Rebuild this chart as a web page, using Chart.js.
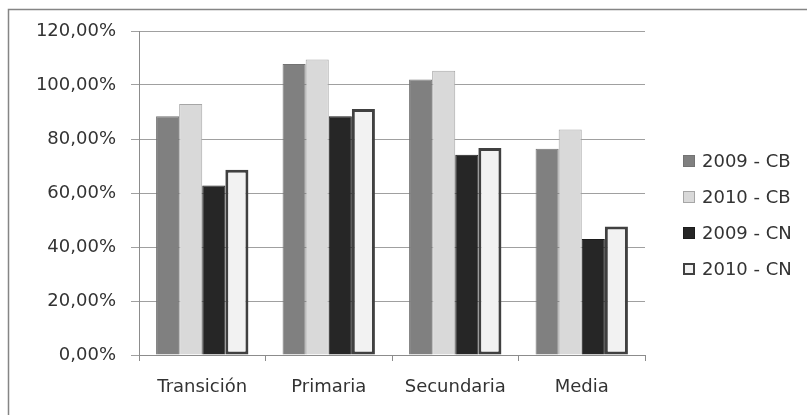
<!DOCTYPE html>
<html>
<head>
<meta charset="utf-8">
<script src="https://cdn.jsdelivr.net/npm/chart.js@4.4.1/dist/chart.umd.min.js"></script>
<style>
  html, body { margin: 0; padding: 0; background: #ffffff; }
  #wrap { position: relative; width: 807px; height: 415px; overflow: hidden; }
  canvas { display: block; }
</style>
</head>
<body>
<div id="wrap"><canvas id="chart" width="807" height="415"></canvas></div>
<script>
// Cobertura por nivel educativo (porcentaje)
const categories = ['Transición', 'Primaria', 'Secundaria', 'Media'];
const seriesNames = ['2009 - CB', '2010 - CB', '2009 - CN', '2010 - CN'];
const cb2009 = [88.4, 107.8, 102.0, 76.4];
const cb2010 = [93.0, 109.4, 105.3, 83.5];
const cn2009 = [62.8, 88.4, 74.2, 43.0];
const cn2010 = [68.6, 91.1, 76.7, 47.6];
const yTicks = [0, 20, 40, 60, 80, 100, 120];

const FONT = '"DejaVu Sans", Verdana, sans-serif';
const TEXT = '#333333';

const fills = ['#808080', '#d9d9d9', '#262626', '#f2f2f2'];
const borders = ['#737373', '#a6a6a6', '#1c1c1c', '#404040'];
const borderWidths = [1, 1, 1, 3];
const values = [cb2009, cb2010, cn2009, cn2010];

const datasets = seriesNames.map((name, i) => ({
  label: name,
  data: values[i],
  backgroundColor: fills[i],
  borderColor: borders[i],
  borderWidth: borderWidths[i],
  borderSkipped: i === 3 ? false : 'start',
  categoryPercentage: 0.73,
  barPercentage: 1.0
}));

// Frame around the whole chart
const framePlugin = {
  id: 'frame',
  beforeDraw(chart) {
    const ctx = chart.ctx;
    ctx.save();
    ctx.strokeStyle = '#858585';
    ctx.lineWidth = 1.5;
    ctx.strokeRect(8.5, 9.5, chart.width + 20, chart.height + 20);
    ctx.restore();
  }
};

// Legend on the right, one row per series
const sideLegend = {
  id: 'sideLegend',
  afterDraw(chart) {
    const ctx = chart.ctx;
    const area = chart.chartArea;
    const x = area.right + 38;
    const step = 36;
    const startY = chart.height / 2 - 1.5 * step + 7.5;
    ctx.save();
    ctx.font = '18px ' + FONT;
    ctx.textBaseline = 'middle';
    ctx.textAlign = 'left';
    chart.data.datasets.forEach((ds, i) => {
      const cy = startY + i * step;
      const bw = ds.borderWidth > 1 ? 2 : 1;
      ctx.fillStyle = ds.backgroundColor;
      ctx.fillRect(x, cy - 6, 12, 12);
      ctx.strokeStyle = ds.borderColor;
      ctx.lineWidth = bw;
      ctx.strokeRect(x + bw / 2, cy - 6 + bw / 2, 12 - bw, 12 - bw);
      ctx.fillStyle = TEXT;
      ctx.fillText(ds.label, x + 19, cy + 1);
    });
    ctx.restore();
  }
};

new Chart(document.getElementById('chart'), {
  type: 'bar',
  data: { labels: categories, datasets },
  options: {
    responsive: false,
    animation: false,
    devicePixelRatio: 1,
    layout: { padding: { left: 0, right: 162, top: 31, bottom: 0 } },
    plugins: {
      legend: { display: false },
      tooltip: { enabled: false }
    },
    scales: {
      x: {
        offset: true,
        afterFit(scale) { scale.height = 60; },
        grid: {
          display: true,
          drawOnChartArea: false,
          drawTicks: true,
          tickLength: 6,
          color: '#8c8c8c',
          offset: true
        },
        border: { display: true, color: '#8c8c8c', width: 1 },
        ticks: {
          color: TEXT,
          padding: 16,
          font: { family: FONT, size: 18 }
        }
      },
      y: {
        min: yTicks[0],
        max: yTicks[yTicks.length - 1],
        afterFit(scale) { scale.width = 139; },
        afterBuildTicks(scale) { scale.ticks = yTicks.map(v => ({ value: v })); },
        grid: {
          color: '#a0a0a0',
          lineWidth: 1,
          drawTicks: true,
          tickLength: 8
        },
        border: { display: true, color: '#8c8c8c', width: 1 },
        ticks: {
          color: TEXT,
          padding: 15,
          font: { family: FONT, size: 18 },
          callback: v => v.toFixed(2).replace('.', ',') + '%'
        }
      }
    }
  },
  plugins: [framePlugin, sideLegend]
});
</script>
</body>
</html>
